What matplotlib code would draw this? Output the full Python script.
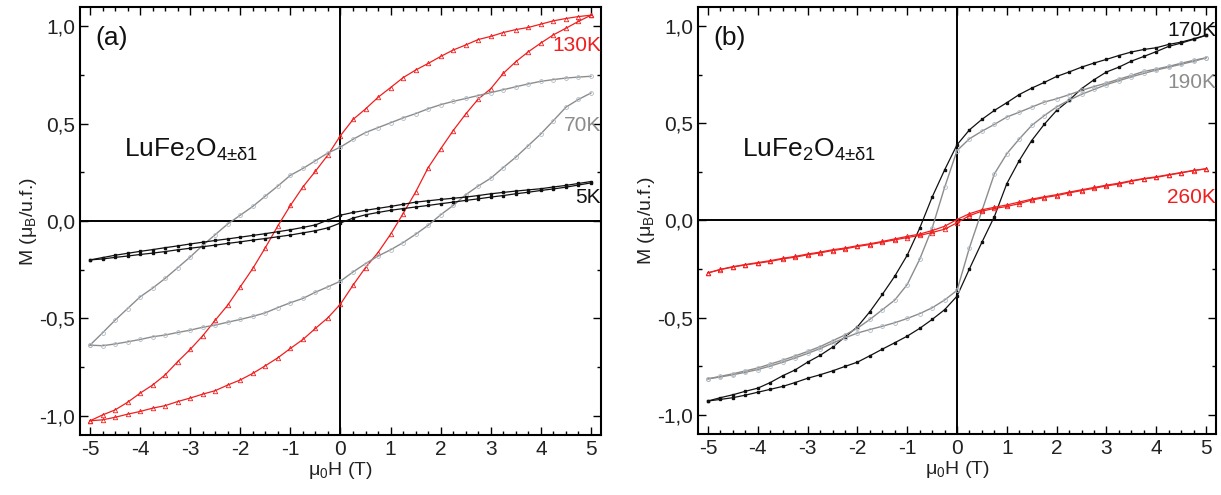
import matplotlib
matplotlib.use("Agg")
import matplotlib.pyplot as plt
from matplotlib.ticker import MultipleLocator, FixedLocator, FixedFormatter

plt.rcParams["font.family"] = ["Liberation Sans", "DejaVu Sans"]
plt.rcParams["mathtext.fontset"] = "custom"
plt.rcParams["mathtext.rm"] = "Liberation Sans"
plt.rcParams["mathtext.it"] = "Liberation Sans"

# field sweep, 5 T -> -5 T (descending branch); the ascending branch is reversed
H_DOWN = [5.0, 4.75, 4.5, 4.25, 4.0, 3.75, 3.5, 3.25, 3.0, 2.75, 2.5, 2.25, 2.0,
          1.75, 1.5, 1.25, 1.0, 0.75, 0.5, 0.25, 0.0, -0.25, -0.5, -0.75, -1.0,
          -1.25, -1.5, -1.75, -2.0, -2.25, -2.5, -2.75, -3.0, -3.25, -3.5, -3.75,
          -4.0, -4.25, -4.5, -4.75, -5.0]
H_UP = H_DOWN[::-1]

# panel (a)
m130_down = [1.058, 1.051, 1.041, 1.029, 1.012, 0.995, 0.984, 0.969, 0.949, 0.933, 0.905,
             0.879, 0.846, 0.810, 0.776, 0.737, 0.686, 0.636, 0.576, 0.522, 0.439,
             0.340, 0.256, 0.175, 0.080, -0.025, -0.137, -0.244, -0.338, -0.432, -0.510,
             -0.590, -0.660, -0.723, -0.791, -0.843, -0.885, -0.932, -0.971, -0.997, -1.027]
m130_up = [-1.027, -1.022, -1.009, -0.993, -0.979, -0.962, -0.949, -0.928, -0.910, -0.890,
           -0.872, -0.843, -0.817, -0.783, -0.744, -0.703, -0.655, -0.609, -0.552, -0.497,
           -0.427, -0.330, -0.239, -0.162, -0.068, 0.038, 0.149, 0.274, 0.371, 0.465,
           0.550, 0.627, 0.680, 0.759, 0.819, 0.870, 0.915, 0.957, 0.991, 1.026, 1.058]
m70_down = [0.744, 0.740, 0.735, 0.727, 0.718, 0.705, 0.690, 0.675, 0.660, 0.645, 0.630,
            0.615, 0.598, 0.577, 0.552, 0.530, 0.505, 0.480, 0.455, 0.420, 0.380,
            0.350, 0.310, 0.270, 0.235, 0.180, 0.128, 0.075, 0.030, -0.015, -0.070,
            -0.125, -0.185, -0.240, -0.295, -0.345, -0.390, -0.450, -0.510, -0.575, -0.638]
m70_up = [-0.638, -0.641, -0.632, -0.621, -0.609, -0.595, -0.586, -0.573, -0.561, -0.546,
          -0.535, -0.520, -0.506, -0.490, -0.472, -0.445, -0.420, -0.398, -0.366, -0.338,
          -0.309, -0.262, -0.219, -0.180, -0.148, -0.111, -0.068, -0.022, 0.032, 0.080,
          0.135, 0.180, 0.220, 0.275, 0.328, 0.388, 0.448, 0.516, 0.585, 0.625, 0.658]
m5_down = [0.203, 0.193, 0.183, 0.175, 0.166, 0.160, 0.154, 0.147, 0.140, 0.131, 0.123,
           0.117, 0.111, 0.104, 0.097, 0.086, 0.075, 0.065, 0.055, 0.044, 0.030,
           0.005, -0.020, -0.033, -0.045, -0.055, -0.065, -0.074, -0.083, -0.092, -0.100,
           -0.109, -0.118, -0.128, -0.137, -0.147, -0.156, -0.166, -0.176, -0.188, -0.200]
m5_up = [-0.200, -0.195, -0.187, -0.180, -0.172, -0.165, -0.157, -0.148, -0.140, -0.132,
         -0.124, -0.115, -0.107, -0.098, -0.090, -0.081, -0.072, -0.061, -0.050, -0.035,
         -0.010, 0.015, 0.032, 0.044, 0.055, 0.064, 0.072, 0.080, 0.089, 0.097,
         0.106, 0.114, 0.123, 0.131, 0.140, 0.148, 0.157, 0.165, 0.174, 0.185, 0.196]

# panel (b)
m170_down = [0.954, 0.936, 0.919, 0.907, 0.890, 0.881, 0.868, 0.850, 0.830, 0.811, 0.790,
             0.765, 0.742, 0.711, 0.682, 0.649, 0.607, 0.567, 0.521, 0.467, 0.390,
             0.260, 0.120, -0.040, -0.179, -0.287, -0.381, -0.470, -0.548, -0.600, -0.653,
             -0.695, -0.730, -0.770, -0.800, -0.835, -0.864, -0.880, -0.898, -0.913, -0.930]
m170_up = [-0.930, -0.922, -0.913, -0.900, -0.885, -0.870, -0.855, -0.835, -0.813, -0.795,
           -0.775, -0.752, -0.730, -0.697, -0.663, -0.630, -0.596, -0.556, -0.510, -0.460,
           -0.390, -0.249, -0.112, 0.020, 0.190, 0.309, 0.412, 0.495, 0.567, 0.619,
           0.679, 0.725, 0.765, 0.790, 0.821, 0.845, 0.870, 0.897, 0.914, 0.933, 0.954]
m190_down = [0.838, 0.825, 0.810, 0.794, 0.780, 0.768, 0.747, 0.728, 0.708, 0.690, 0.670,
             0.648, 0.627, 0.610, 0.584, 0.558, 0.533, 0.495, 0.460, 0.421, 0.360,
             0.170, -0.040, -0.200, -0.330, -0.410, -0.460, -0.510, -0.555, -0.590, -0.620,
             -0.650, -0.675, -0.698, -0.720, -0.740, -0.760, -0.775, -0.790, -0.803, -0.816]
m190_up = [-0.816, -0.806, -0.795, -0.782, -0.768, -0.750, -0.730, -0.708, -0.685, -0.660,
           -0.632, -0.605, -0.580, -0.562, -0.545, -0.527, -0.505, -0.480, -0.450, -0.410,
           -0.360, -0.140, 0.050, 0.240, 0.344, 0.420, 0.490, 0.540, 0.585, 0.620,
           0.650, 0.675, 0.700, 0.720, 0.740, 0.758, 0.775, 0.790, 0.805, 0.820, 0.838]
m260_down = [0.266, 0.258, 0.247, 0.236, 0.225, 0.216, 0.205, 0.192, 0.182, 0.170, 0.158,
             0.146, 0.133, 0.122, 0.110, 0.095, 0.080, 0.068, 0.055, 0.035, 0.005,
             -0.030, -0.052, -0.070, -0.082, -0.095, -0.108, -0.120, -0.130, -0.142, -0.151,
             -0.163, -0.173, -0.185, -0.195, -0.207, -0.217, -0.227, -0.238, -0.252, -0.270]
m260_up = [-0.270, -0.253, -0.240, -0.229, -0.220, -0.211, -0.198, -0.189, -0.177, -0.167,
           -0.155, -0.146, -0.134, -0.124, -0.112, -0.100, -0.088, -0.077, -0.062, -0.045,
           -0.012, 0.025, 0.048, 0.062, 0.072, 0.087, 0.105, 0.118, 0.128, 0.142,
           0.154, 0.166, 0.178, 0.188, 0.202, 0.214, 0.222, 0.234, 0.245, 0.257, 0.266]

RED = "#f01e1e"
GREY = "#8c8c8c"
GREY_MK = "#b0bac2"
BLACK = "#111111"
TXT = "#222222"

styles = {
    "red": dict(color=RED, marker="^", ms=3.2, mfc="none", mec=RED, mew=0.6, lw=0.9),
    "grey": dict(color=GREY, marker="o", ms=2.8, mfc="none", mec=GREY_MK, mew=0.6, lw=1.0),
    "black": dict(color=BLACK, marker="s", ms=1.6, mfc=BLACK, mec=BLACK, lw=0.9),
}

panels = [
    ("(a)", [(m130_down, m130_up, "red", "130K", 0.90),
             (m70_down, m70_up, "grey", "70K", 0.49),
             (m5_down, m5_up, "black", "5K", 0.12)]),
    ("(b)", [(m170_down, m170_up, "black", "170K", 0.98),
             (m190_down, m190_up, "grey", "190K", 0.71),
             (m260_down, m260_up, "red", "260K", 0.12)]),
]
label_colors = {"red": RED, "grey": GREY, "black": BLACK}

fig = plt.figure(figsize=(12.21, 4.95), dpi=100)
rects = [[0.0655, 0.1212, 0.4267, 0.8646], [0.5717, 0.1233, 0.4242, 0.8626]]

for rect, (tag, curves) in zip(rects, panels):
    ax = fig.add_axes(rect)
    ax.axhline(0, color="black", lw=1.4, zorder=1)
    ax.axvline(0, color="black", lw=1.4, zorder=1)
    for m_down, m_up, style, label, ylab in curves:
        ax.plot(H_DOWN, m_down, zorder=3, **styles[style])
        ax.plot(H_UP, m_up, zorder=3, **styles[style])
        ax.text(5.2, ylab, label, ha="right", va="center", fontsize=15,
                color=label_colors[style])

    ax.set_xlim(-5.2, 5.2)
    ax.set_ylim(-1.1, 1.1)
    ax.xaxis.set_major_locator(MultipleLocator(1))
    ax.xaxis.set_minor_locator(MultipleLocator(0.25))
    ax.yaxis.set_major_locator(FixedLocator([-1.0, -0.5, 0.0, 0.5, 1.0]))
    ax.yaxis.set_major_formatter(FixedFormatter(["-1,0", "-0,5", "0,0", "0,5", "1,0"]))
    ax.yaxis.set_minor_locator(MultipleLocator(0.25))
    ax.tick_params(which="both", direction="in", top=True, right=True,
                   width=1.0, labelsize=15, labelcolor=TXT)
    ax.tick_params(which="major", length=6)
    ax.tick_params(which="minor", length=3)
    ax.set_xticks(range(-5, 6))
    ax.set_xticklabels([str(v) for v in range(-5, 6)])
    for sp in ax.spines.values():
        sp.set_linewidth(1.5)

    ax.set_xlabel(r"μ$_0$H (T)", fontsize=14, color=TXT, labelpad=1)
    ax.set_ylabel(r"M (μ$_\mathrm{B}$/u.f.)", fontsize=14, color=TXT, labelpad=0)
    ax.text(-4.9, 0.94, tag, fontsize=19, color=BLACK, va="center", ha="left")
    ax.text(-4.32, 0.33, r"LuFe$_2$O$_{4±δ1}$", fontsize=19, color=BLACK,
            va="baseline", ha="left")

fig.savefig("out.png", dpi=100)
